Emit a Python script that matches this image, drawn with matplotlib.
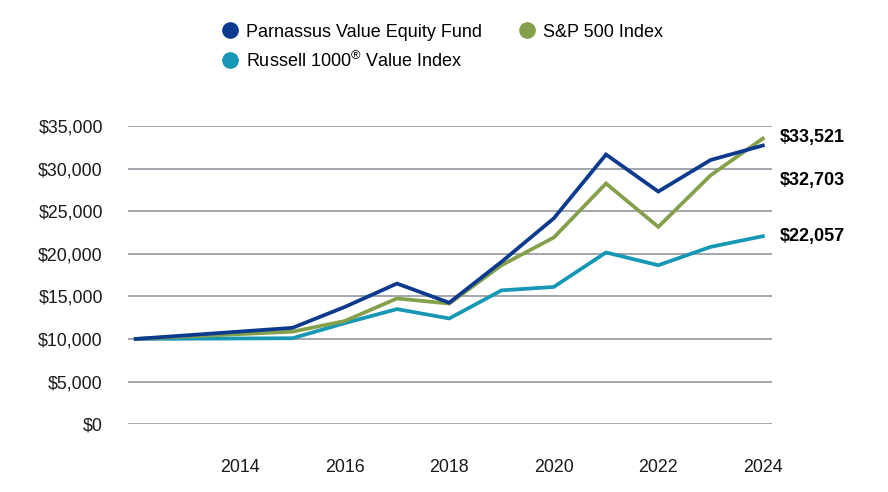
import matplotlib
matplotlib.use("Agg")
import matplotlib.pyplot as plt
from matplotlib.lines import Line2D
from matplotlib.ticker import FuncFormatter

plt.rcParams['font.family'] = ['Liberation Sans', 'DejaVu Sans']
plt.rcParams['mathtext.fontset'] = 'custom'
plt.rcParams['mathtext.rm'] = 'Liberation Sans'

# === Data (growth of $10,000) ===
years = [2012, 2015, 2016, 2017, 2018, 2019, 2020, 2021, 2022, 2023, 2024]
parnassus = [10000, 11300, 13750, 16500, 14250, 19050, 24150, 31650, 27300, 31000, 32703]
sp500 = [10000, 10850, 12100, 14750, 14150, 18650, 21900, 28250, 23150, 29200, 33521]
russell = [10000, 10080, 11850, 13500, 12400, 15700, 16100, 20150, 18650, 20800, 22057]

series_names = ['Parnassus Value Equity Fund', 'S&P 500 Index',
                'Russell 1000$^{®}$ Value Index']
colors = ['#0b3a8e', '#85a04a', '#1597b5']
end_labels = ['$32,703', '$33,521', '$22,057']
tick_years = [2014, 2016, 2018, 2020, 2022, 2024]

fig = plt.figure(figsize=(8.88, 4.92), dpi=100)
ax = fig.add_axes([0.144, 0.138, 0.725, 0.606])

# draw order: russell, sp500, parnassus on top
ax.plot(years, russell, color=colors[2], lw=2.7, solid_joinstyle='miter', clip_on=False, zorder=3)
ax.plot(years, sp500, color=colors[1], lw=2.7, solid_joinstyle='miter', clip_on=False, zorder=4)
ax.plot(years, parnassus, color=colors[0], lw=2.7, solid_joinstyle='miter', clip_on=False, zorder=5)

ax.set_xlim(2011.85, 2024.17)
ax.set_ylim(0, 35000)
ax.set_yticks(range(0, 35001, 5000))
ax.yaxis.set_major_formatter(FuncFormatter(lambda v, p: f'${v:,.0f}'))
ax.set_xticks(tick_years)
ax.grid(axis='y', color='#9a9ea6', lw=1.3)
ax.set_axisbelow(True)
for s in ax.spines.values():
    s.set_visible(False)
ax.tick_params(axis='both', length=0, labelsize=12.8, colors='#1a1a1a')
ax.tick_params(axis='y', pad=18)
ax.tick_params(axis='x', pad=25)

# end value labels
ax.text(1.012, 33600, end_labels[1], transform=ax.get_yaxis_transform(),
        fontsize=13, fontweight='bold', va='center', ha='left')
ax.text(1.012, 28550, end_labels[0], transform=ax.get_yaxis_transform(),
        fontsize=13, fontweight='bold', va='center', ha='left')
ax.text(1.012, 22000, end_labels[2], transform=ax.get_yaxis_transform(),
        fontsize=13, fontweight='bold', va='center', ha='left')

# legend
handles = [Line2D([], [], marker='o', ls='none', color=colors[0], markersize=11),
           Line2D([], [], marker='o', ls='none', color=colors[2], markersize=11),
           Line2D([], [], marker='o', ls='none', color=colors[1], markersize=11)]
labels = [series_names[0], series_names[2], series_names[1]]
fig.legend(handles, labels, loc='upper left', bbox_to_anchor=(0.228, 0.985), ncol=2,
           frameon=False, fontsize=13, handletextpad=0.3, columnspacing=1.9,
           labelspacing=0.55, handlelength=1.2)

fig.savefig('out.png', dpi=100)
